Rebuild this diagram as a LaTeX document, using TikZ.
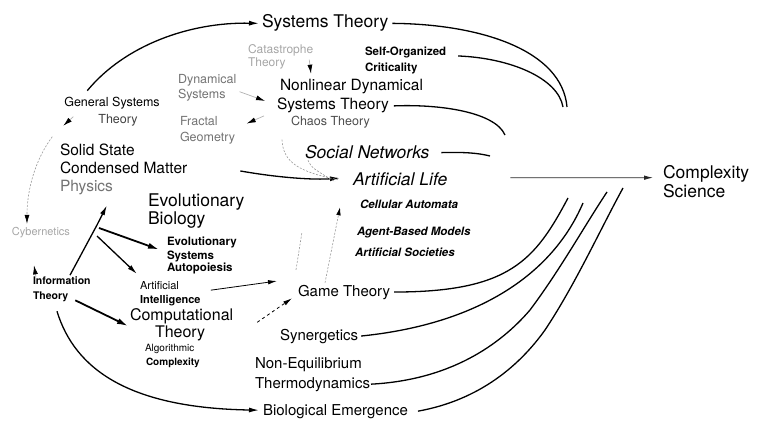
\documentclass[tikz,border=0pt]{standalone}
\usepackage{fontspec}
\setmainfont{TeX Gyre Heros}
\usetikzlibrary{arrows.meta}
\tikzset{
  lbl/.style={inner sep=0pt, outer sep=0pt, anchor=base west},
  sz/.style={font=\fontsize{#1pt}{#1pt}\selectfont},
  bsz/.style={font=\fontsize{#1pt}{#1pt}\selectfont\bfseries},
  isz/.style={font=\fontsize{#1pt}{#1pt}\selectfont\itshape},
  bisz/.style={font=\fontsize{#1pt}{#1pt}\selectfont\bfseries\itshape},
  faded/.style={text=black!55},
  vfaded/.style={text=black!35},
  link/.style={line width=1.3pt},
  arr/.style={line width=1.3pt, -{Latex[length=10pt,width=5pt]}},
  heavyarr/.style={line width=1.8pt, -{Latex[length=11pt,width=6pt]}},
  thinarr/.style={line width=0.8pt, -{Latex[length=9pt,width=4.5pt]}},
  stub/.style={draw=black!30, line width=0.7pt, -{Latex[length=9pt,width=5pt,color=black]}},
  faint/.style={draw=black!40, line width=0.6pt, dash pattern=on 2pt off 1.5pt},
}
\begin{document}
\begin{tikzpicture}[x=1pt,y=-1pt]
\useasboundingbox (0,0) rectangle (763,422);

% ---- labels ----
\node[lbl,sz=17.5] (sysT) at (262,28) {Systems Theory};
\node[lbl,sz=12.5,anchor=base] (gst1) at (112,107) {General Systems};
\node[lbl,sz=12.5,anchor=base,text=black!75] (gst2) at (118,124) {Theory};
\node[lbl,sz=12.5,faded] (dyn1) at (178,84) {Dynamical};
\node[lbl,sz=12.5,faded] (dyn2) at (178,99) {Systems};
\node[lbl,sz=12.5,faded] (fr1) at (180,126) {Fractal};
\node[lbl,sz=12.5,faded] (fr2) at (180,142) {Geometry};
\node[lbl,sz=12,vfaded] (cat1) at (248,54) {Catastrophe};
\node[lbl,sz=12,vfaded] (cat2) at (248,67) {Theory};
\node[lbl,bsz=11.5] (soc1) at (365,56) {Self-Organized};
\node[lbl,bsz=11.5] (soc2) at (365,72) {Criticality};
\node[lbl,sz=15.5] (nl1) at (280,91) {Nonlinear Dynamical};
\node[lbl,sz=15.5] (nl2) at (277,110) {Systems Theory};
\node[lbl,sz=12.5,text=black!70] (chaos) at (291,126) {Chaos Theory};
\node[lbl,sz=15.5] (ss1) at (60,156) {Solid State};
\node[lbl,sz=15.5] (ss2) at (60,174) {Condensed Matter};
\node[lbl,sz=15.5,faded] (ss3) at (60,192) {Physics};
\node[lbl,sz=17.5] (evo1) at (148,207) {Evolutionary};
\node[lbl,sz=17.5] (evo2) at (148,225) {Biology};
\node[lbl,bsz=11.5] (es1) at (167,246) {Evolutionary};
\node[lbl,bsz=11.5] (es2) at (167,259) {Systems};
\node[lbl,bsz=11.5] (es3) at (167,272) {Autopoiesis};
\node[lbl,sz=11,vfaded] (cyb) at (12,236) {Cybernetics};
\node[lbl,bsz=10.5] (in1) at (33,284) {Information};
\node[lbl,bsz=10.5] (in2) at (33,299) {Theory};
\node[lbl,sz=11] (ai1) at (140,289) {Artificial};
\node[lbl,bsz=11] (ai2) at (140,303) {Intelligence};
\node[lbl,sz=16] (co1) at (130,320.5) {Computational};
\node[lbl,sz=16] (co2) at (155,337) {Theory};
\node[lbl,sz=10] (al1) at (145,351.5) {Algorithmic};
\node[lbl,bsz=10] (al2) at (146,365) {Complexity};
\node[lbl,isz=17.5] (sn) at (305,159) {Social Networks};
\node[lbl,isz=17.5] (alife) at (353,186) {Artificial Life};
\node[lbl,bisz=11.5] (ca) at (360,209) {Cellular Automata};
\node[lbl,bisz=11.5] (abm) at (357,236) {Agent-Based Models};
\node[lbl,bisz=11.5] (asoc) at (355,257) {Artificial Societies};
\node[lbl,sz=15] (game) at (298,296) {Game Theory};
\node[lbl,sz=15] (syn) at (280,340) {Synergetics};
\node[lbl,sz=15] (ne1) at (255,368) {Non-Equilibrium};
\node[lbl,sz=15] (ne2) at (255,388) {Thermodynamics};
\node[lbl,sz=15] (bio) at (263,415) {Biological Emergence};
\node[lbl,sz=17.5] (cx1) at (663,179) {Complexity};
\node[lbl,sz=17.5] (cx2) at (663,198) {Science};

% ---- loose ends where the streams merge towards Complexity Science ----
\coordinate (m1) at (567,107);
\coordinate (m2) at (563,107);
\coordinate (m3) at (505,135);
\coordinate (m4) at (490,156);
\coordinate (l1) at (568,198);
\coordinate (l2) at (583,203);
\coordinate (l3) at (607,192);
\coordinate (l4) at (623,188);
\coordinate (hub) at (97,225);
\coordinate (fl) at (302,232);

% ---- upper streams ----
\draw[arr] ([xshift=23pt,yshift=7pt]gst1.north west) .. controls (125,45) and (190,22) .. ([xshift=-3pt]sysT.west);
\draw[link] ([xshift=4pt]sysT.east) .. controls (480,24) and (562,50) .. (m1);
\draw[link] ([xshift=12pt,yshift=-3pt]soc1.east) .. controls (510,58) and (558,78) .. (m2);
\draw[link] ([xshift=5pt]nl2.east) .. controls (440,104) and (495,112) .. (m3);
\draw[link] ([xshift=12pt]sn.east) .. controls (465,152) and (478,153) .. (m4);

% ---- into Artificial Life and on to Complexity Science ----
\draw[arr] ([xshift=53pt,yshift=-2.6pt]ss2.east) .. controls (280,178) and (315,180) .. ([xshift=-13pt,yshift=1.7pt]alife.west);
\draw[faint] ([xshift=-9pt,yshift=-11pt]chaos.south west) .. controls (283,163) and (300,172) .. ([xshift=-15pt]alife.west);
\draw[faint] ([xshift=3pt,yshift=-1pt]sn.south west) .. controls (312,168) .. ([xshift=-18pt,yshift=-2pt]alife.west);
\draw[thinarr,black!85] ([xshift=63pt,yshift=2pt]alife.east) -- ([xshift=-10pt,yshift=-3.3pt]cx1.west);

% ---- short links round the dynamical systems cluster ----
\draw[stub] ([xshift=-4pt,yshift=-3pt]cat1.south east) -- ([xshift=31pt,yshift=6pt]nl1.north west);
\draw[stub] ([xshift=14pt,yshift=4pt]dyn2.east) -- ([xshift=-12pt,yshift=5pt]nl2.west);
\draw[stub] ([xshift=-13pt,yshift=-10pt]nl2.west) -- ([xshift=29pt,yshift=-2pt]fr1.east);

% ---- General Systems Theory / Cybernetics / Information Theory ----
\draw[stub] ([xshift=9pt,yshift=-7pt]gst1.south west) -- ([xshift=-1pt,yshift=-16pt]gst1.south west);
\draw[faint,-{Latex[length=9pt,width=5pt,color=black]}] ([xshift=-12pt,yshift=-27pt]gst1.south west) .. controls (35,160) and (27,190) .. ([xshift=-14pt,yshift=4pt]cyb.north);
\draw[stub] ([xshift=3pt,yshift=-1pt]in1.north west) -- ([xshift=-7pt,yshift=-27pt]cyb.south);
\draw[link] ([xshift=37pt,yshift=1pt]in1.north west) -- (hub);
\draw[arr] (hub) -- ([xshift=-6pt,yshift=-10pt]ss3.south east);
\draw[heavyarr] ([xshift=2pt,yshift=-3pt]hub) -- ([xshift=-8pt,yshift=-1pt]es1.south west);
\draw[arr] ([yshift=-11pt]hub) -- ([xshift=-3pt,yshift=7pt]ai1.north west);
\draw[heavyarr] ([xshift=7pt,yshift=1pt]in2.south east) -- ([xshift=-2pt,yshift=-2pt]co1.south west);
\draw[arr] ([xshift=24pt,yshift=-10pt]in2.south west) .. controls (75,370) and (130,408) .. ([xshift=-4pt,yshift=1pt]bio.west);

% ---- towards Game Theory ----
\draw[thinarr] ([xshift=32pt,yshift=-1pt]ai1.south east) -- ([xshift=-21pt,yshift=11pt]game.west);
\draw[thinarr,dashed] ([xshift=24pt,yshift=-6pt]co1.east) -- ([xshift=-6pt,yshift=1pt]game.south west);
\draw[faint,-{Latex[length=8pt,width=4.5pt,color=black]}] ([xshift=27pt,yshift=2pt]game.north west) -- ([xshift=-13pt,yshift=-21pt]alife.south west);
\draw[faint] ([xshift=-2pt,yshift=15pt]game.north west) -- (fl);

% ---- lower streams ----
\draw[link] ([xshift=4pt]game.east) .. controls (510,292) and (535,260) .. (l1);
\draw[link] ([xshift=3pt]syn.east) .. controls (470,325) and (550,280) .. (l2);
\draw[link] ([xshift=1pt]ne2.east) .. controls (450,380) and (500,345) .. (530,310) .. controls (560,270) and (585,225) .. (l3);
\draw[link] ([xshift=10pt]bio.east) .. controls (480,400) and (520,365) .. (545,330) .. controls (575,285) and (600,230) .. (l4);
\end{tikzpicture}
\end{document}
